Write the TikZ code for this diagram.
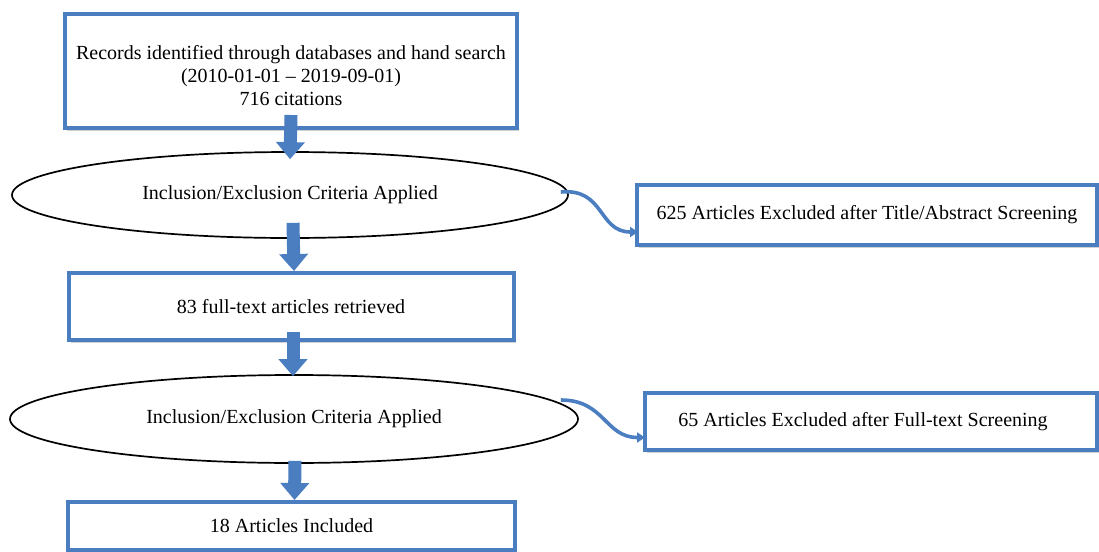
\documentclass[tikz,border=0pt]{standalone}
\usepackage{fontspec}
\setmainfont{Liberation Serif}
\usetikzlibrary{arrows.meta,shapes.geometric,shadows}
\definecolor{offblue}{RGB}{74,126,193}
\begin{document}
\begin{tikzpicture}[x=0.5pt,y=-0.5pt,
  font=\fontsize{10}{11.5}\selectfont,
  box/.style={draw=offblue,line width=2pt,fill=white,rectangle,inner sep=0pt,
    align=center,drop shadow={shadow xshift=1pt,shadow yshift=-1.5pt,opacity=0.3,fill=black!60}},
  oval/.style={draw=black,line width=0.85pt,fill=white,ellipse,inner sep=0pt},
  blockarrow/.style={draw=offblue,line width=6.5pt,-{Triangle[width=14pt,length=8.5pt]}},
  curvearrow/.style={draw=offblue,line width=1.8pt,-{Triangle[width=5pt,length=4pt]}}]
\useasboundingbox (0,0) rectangle (1099,552);
\node[box,minimum width=226pt,minimum height=57pt] (b1) at (291,71)
  {\rule{0pt}{12pt}Records identified through databases and hand search\\(2010-01-01 -- 2019-09-01)\\716 citations};
\node[oval,minimum width=278pt,minimum height=43pt] (e1) at (290,195)
  {Inclusion/Exclusion Criteria Applied};
\node[box,minimum width=222.5pt,minimum height=33.5pt] (b2) at (291,306.5)
  {83 full-text articles retrieved};
\node[oval,minimum width=284pt,minimum height=44pt] (e2) at (294,419)
  {Inclusion/Exclusion Criteria Applied};
\node[box,minimum width=223.5pt,minimum height=24pt] (b3) at (291.5,526)
  {18 Articles Included};
\node[box,minimum width=230pt,minimum height=30pt] (x1) at (867,215)
  {625 Articles Excluded after Title/Abstract Screening};
\node[box,minimum width=226pt,minimum height=28.5pt] (x2) at (871,421.5)
  {\hspace*{-8pt}65 Articles Excluded after Full-text Screening};
\draw[blockarrow] ([yshift=7.5pt]b1.south) -- ([yshift=-4pt]e1.north);
\draw[blockarrow] ([xshift=1.5pt,yshift=8pt]e1.south) -- ([xshift=1.5pt]b2.north);
\draw[blockarrow] ([xshift=1pt,yshift=5pt]b2.south) -- ([xshift=-0.5pt,yshift=-1pt]e2.north);
\draw[blockarrow] ([xshift=0.5pt,yshift=1.5pt]e2.south) -- ([xshift=1.5pt]b3.north);
\draw[curvearrow] ([xshift=-4pt,yshift=1.5pt]e1.east) .. controls +(22pt,2pt) and +(-20pt,0pt) .. ([xshift=1.5pt,yshift=-8.5pt]x1.west);
\draw[curvearrow] ([xshift=-9pt,yshift=9.5pt]e2.east) .. controls +(22pt,0pt) and +(-20pt,0pt) .. ([xshift=1pt,yshift=-8pt]x2.west);
\end{tikzpicture}
\end{document}
